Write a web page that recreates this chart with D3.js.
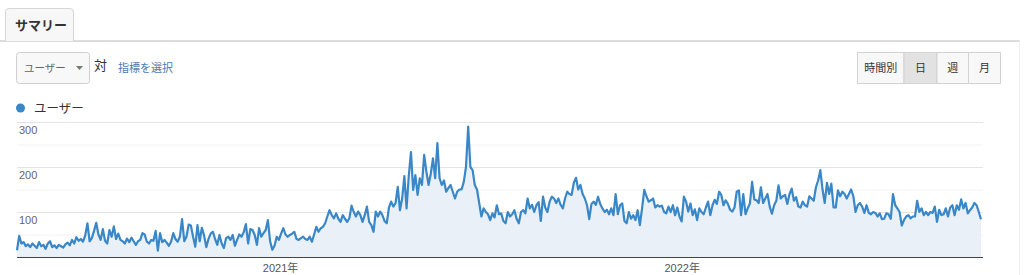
<!DOCTYPE html>
<html>
<head>
<meta charset="utf-8">
<script src="https://cdn.jsdelivr.net/npm/d3@7"></script>
<style>
  body { margin: 0; background: #fff; }
  svg { display: block; font-family: "Liberation Sans", "Noto Sans CJK JP", sans-serif; }
</style>
</head>
<body>
<div id="chart"></div>
<script>

const startDate = "2020-05-07";
const stepDays = 2;
const users = [
  15,47,30,33,24,28,22,30,25,20,33,24,27,18,30,35,22,26,20,27,
  24,21,28,32,26,38,30,44,36,40,34,48,75,35,42,58,76,50,38,62,
  36,30,60,45,68,40,52,38,
  35,30,41,33,43,35,27,35,38,53,50,34,30,38,36,58,14,53,33,38,
  32,25,34,53,40,34,45,84,35,45,72,70,45,23,71,35,65,48,22,40,
  52,56,40,27,49,30,20,42,45,38,49,25,38,50,45,55,73,30,62,
  60,49,27,64,45,53,60,82,35,16,25,45,38,52,64,50,45,49,52,56,
  40,38,42,45,40,38,45,34,50,67,56,64,67,75,90,104,93,86,97,85,
  78,93,85,78,86,114,100,90,101,93,78,93,112,78,
  71,56,101,90,101,93,80,75,110,123,112,120,156,104,130,180,108,180,233,149,
  182,138,175,160,227,190,160,185,219,175,253,175,160,170,145,153,160,145,130,145,
  150,150,167,200,290,200,193,160,150,120,90,108,
  100,95,82,97,88,115,95,97,80,75,100,90,95,104,85,75,100,104,97,130,
  108,116,100,115,122,80,134,110,100,123,134,130,120,130,116,108,130,145,140,138,
  165,176,150,160,140,130,115,84,118,123,116,134,118,108,100,105,
  95,108,93,140,95,115,119,80,75,100,85,93,82,104,71,108,149,135,123,126,
  130,110,115,112,114,100,97,112,100,115,93,110,90,79,134,123,101,119,93,106,
  82,108,100,95,110,123,93,115,127,118,145,138,115,
  126,118,105,101,110,145,148,93,140,95,108,119,167,128,126,120,155,120,130,140,
  112,96,115,125,159,130,135,138,118,140,152,125,133,112,110,123,115,112,135,130,
  125,155,170,193,150,120,165,140,163,110,110,148,135,145,
  140,130,140,150,135,100,115,120,112,98,115,98,95,100,98,90,97,84,85,97,
  95,85,140,115,108,100,70,82,90,93,86,90,90,125,100,108,93,100,93,100,
  98,112,78,105,93,95,108,90,110,115,93,115,105,128,108,120,97,104,110,120,
  115,100,84
];

const yTicks = [50, 100, 150, 200, 250, 300];
const yLabels = [100, 200, 300];
const yearTicks = ["2021-01-01", "2022-01-01"];
const buttons = ["時間別", "日", "週", "月"];
const buttonWidths = [46.5, 33, 31.5, 32];

const width = 1024, height = 275;
const plot = { left: 17, right: 981, top: 122, bottom: 257 };

const parse = d3.utcParse("%Y-%m-%d");
const t0 = parse(startDate);
const series = users.map((v, i) => ({ date: d3.utcDay.offset(t0, i * stepDays), value: v }));

const svg = d3.select("#chart").append("svg")
  .attr("width", width)
  .attr("height", height);

// ---- header: tab + controls ----
svg.append("line")
  .attr("x1", 0).attr("x2", 1020)
  .attr("y1", 41).attr("y2", 41)
  .attr("stroke", "#dcdcdc").attr("stroke-width", 2);

svg.append("path")
  .attr("d", "M5.5,41 V12 Q5.5,8.5 9,8.5 H70 Q73.5,8.5 73.5,12 V41")
  .attr("fill", "#f7f7f7")
  .attr("stroke", "#d6d6d6");

svg.append("text")
  .attr("x", 15).attr("y", 30)
  .attr("font-size", 13).attr("font-weight", "bold")
  .attr("fill", "#333")
  .text("サマリー");

// page border on the right
svg.append("line")
  .attr("x1", 1019.5).attr("x2", 1019.5)
  .attr("y1", 40).attr("y2", height)
  .attr("stroke", "#eeeeee");

// metric dropdown
svg.append("rect")
  .attr("x", 16.5).attr("y", 52.5)
  .attr("width", 73).attr("height", 31)
  .attr("rx", 3)
  .attr("fill", "#f8f8f8").attr("stroke", "#cfcfcf");

svg.append("text")
  .attr("x", 24).attr("y", 72)
  .attr("font-size", 10.5).attr("fill", "#666")
  .text("ユーザー");

svg.append("path")
  .attr("d", "M76,66 L83,66 L79.5,70 Z")
  .attr("fill", "#777");

svg.append("text")
  .attr("x", 94).attr("y", 70)
  .attr("font-size", 13).attr("fill", "#333")
  .text("対");

svg.append("text")
  .attr("x", 118).attr("y", 72)
  .attr("font-size", 11).attr("fill", "#4a7ab3")
  .text("指標を選択");

// time grain buttons
let bx = 857;
buttons.forEach((b, i) => {
  const w = buttonWidths[i];
  svg.append("rect")
    .attr("x", bx + 0.5).attr("y", 52.5)
    .attr("width", w).attr("height", 31)
    .attr("fill", b === "日" ? "#e2e2e2" : "#f8f8f8")
    .attr("stroke", "#d2d2d2");
  svg.append("text")
    .attr("x", bx + w / 2 + 0.5).attr("y", 72)
    .attr("text-anchor", "middle")
    .attr("font-size", 11).attr("fill", "#333")
    .text(b);
  bx += w;
});

// legend
svg.append("circle")
  .attr("cx", 20.5).attr("cy", 108)
  .attr("r", 4.5)
  .attr("fill", "#3a87c8");

svg.append("text")
  .attr("x", 34).attr("y", 113)
  .attr("font-size", 12.5).attr("fill", "#333")
  .text("ユーザー");

// ---- chart ----
const x = d3.scaleUtc()
  .domain(d3.extent(series, d => d.date))
  .range([plot.left, plot.right]);

const y = d3.scaleLinear()
  .domain([0, 300])
  .range([plot.bottom, plot.top]);

// gridlines
svg.append("g")
  .attr("transform", `translate(${plot.left},0)`)
  .call(d3.axisRight(y).tickValues(yTicks).tickSize(plot.right + 2 - plot.left).tickFormat(""))
  .call(g => g.select(".domain").remove())
  .call(g => g.selectAll(".tick line")
    .attr("stroke", d => yLabels.includes(d) ? "#e4e4e4" : "#f2f2f2"));

// area + line
const area = d3.area()
  .x(d => x(d.date))
  .y0(y(0))
  .y1(d => y(d.value));

const line = d3.line()
  .x(d => x(d.date))
  .y(d => y(d.value));

svg.append("path")
  .datum(series)
  .attr("d", area)
  .attr("fill", "#e9f0f8");

// baseline
svg.append("line")
  .attr("x1", plot.left).attr("x2", plot.right + 2)
  .attr("y1", y(0) + 0.5).attr("y2", y(0) + 0.5)
  .attr("stroke", "#444");

svg.append("path")
  .datum(series)
  .attr("d", line)
  .attr("fill", "none")
  .attr("stroke", "#3a87c8")
  .attr("stroke-width", 2.2)
  .attr("stroke-linejoin", "round");

// y labels under their gridlines
svg.append("g")
  .selectAll("text")
  .data(yLabels)
  .join("text")
  .attr("x", 19)
  .attr("y", d => y(d) + 12)
  .attr("font-size", 11)
  .attr("fill", "#666")
  .text(d => d);

// x axis year labels
svg.append("g")
  .attr("transform", `translate(0,${plot.bottom})`)
  .call(d3.axisBottom(x)
    .tickValues(yearTicks.map(parse))
    .tickSize(0)
    .tickPadding(7)
    .tickFormat(d => d.getUTCFullYear() + "年"))
  .call(g => g.select(".domain").remove())
  .call(g => g.selectAll("text")
    .attr("font-size", 11)
    .attr("fill", "#555")
    .attr("font-family", "\"Liberation Sans\", \"Noto Sans CJK JP\", sans-serif"));
</script>
</body>
</html>
